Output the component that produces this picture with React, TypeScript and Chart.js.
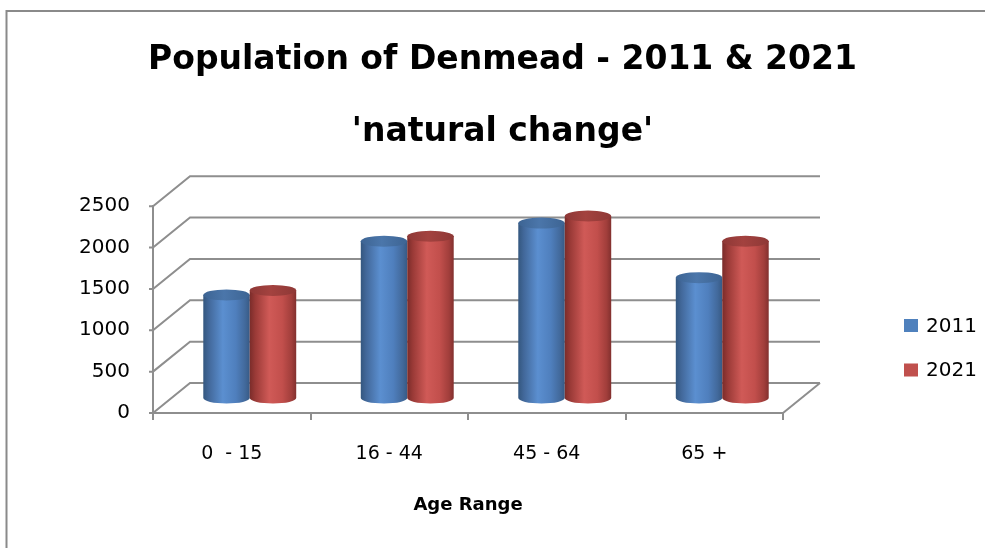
import React, { useEffect, useRef } from 'react';
import { Chart, registerables } from 'chart.js';

Chart.register(...registerables);

// ---- data ----
const categories = ['0  - 15', '16 - 44', '45 - 64', '65 +'];
const seriesLabels = ['2011', '2021'];
const values2011 = [1245, 1895, 2115, 1455];
const values2021 = [1300, 1955, 2200, 1895];
const yMin = 0;
const yMax = 2500;
const yStep = 500;
const titleLines = ['Population of Denmead - 2011 & 2021', "'natural change'"];
const xAxisTitle = 'Age Range';

// ---- style ----
const FONT = "'DejaVu Sans', sans-serif";
const GRID = '#8e8e8e';
const BAR_DX = 18;
const BAR_DY = -15;
const BACK_DX = 37;
const BACK_DY = -30;

type Pal = { base: string; stops: [number, string][]; top: string; topLight: string };
const palettes: Pal[] = [
  {
    base: '#4F81BD',
    stops: [[0, '#34577f'], [0.12, '#42689a'], [0.42, '#5b8fd0'], [0.7, '#4f7fbd'], [0.9, '#42699b'], [1, '#375a85']],
    top: '#3d6493',
    topLight: '#4b76aa',
  },
  {
    base: '#C0504D',
    stops: [[0, '#7a2c2a'], [0.12, '#9a3a37'], [0.42, '#d05a57'], [0.7, '#c24f4c'], [0.9, '#a13e3b'], [1, '#82302e']],
    top: '#8e3836',
    topLight: '#a3423f',
  },
];

function drawCylinder(ctx: CanvasRenderingContext2D, cx: number, top: number, base: number, width: number, pal: Pal) {
  const rx = width / 2;
  const ry = 5.5;
  const left = cx - rx;
  const right = cx + rx;
  const g = ctx.createLinearGradient(left, 0, right, 0);
  pal.stops.forEach(([o, c]) => g.addColorStop(o, c));
  ctx.beginPath();
  ctx.moveTo(left, top);
  ctx.lineTo(left, base);
  ctx.ellipse(cx, base, rx, ry, 0, Math.PI, 0, true);
  ctx.lineTo(right, top);
  ctx.closePath();
  ctx.fillStyle = g;
  ctx.fill();
  const gt = ctx.createLinearGradient(left, 0, right, 0);
  gt.addColorStop(0, pal.top);
  gt.addColorStop(0.45, pal.topLight);
  gt.addColorStop(1, pal.top);
  ctx.beginPath();
  ctx.ellipse(cx, top, rx, ry, 0, 0, Math.PI * 2);
  ctx.fillStyle = gt;
  ctx.fill();
}

const frame3d = {
  id: 'frame3d',
  beforeDraw(chart: any) {
    const ctx = chart.ctx as CanvasRenderingContext2D;
    ctx.save();
    ctx.strokeStyle = '#8a8a8a';
    ctx.lineWidth = 2;
    ctx.beginPath();
    ctx.moveTo(6.5, chart.height + 10);
    ctx.lineTo(6.5, 11);
    ctx.lineTo(chart.width + 10, 11);
    ctx.stroke();
    ctx.restore();
  },
  beforeDatasetsDraw(chart: any) {
    const ctx = chart.ctx as CanvasRenderingContext2D;
    const a = chart.chartArea;
    const ys = chart.scales.y;
    ctx.save();
    ctx.strokeStyle = GRID;
    ctx.lineWidth = 2;
    ys.ticks.forEach((t: any) => {
      const py = ys.getPixelForValue(t.value);
      ctx.beginPath();
      ctx.moveTo(a.left - 4, py);
      ctx.lineTo(a.left, py);
      ctx.lineTo(a.left + BACK_DX, py + BACK_DY);
      ctx.lineTo(a.right + BACK_DX, py + BACK_DY);
      ctx.stroke();
    });
    ctx.beginPath();
    ctx.moveTo(a.right, a.bottom);
    ctx.lineTo(a.right + BACK_DX, a.bottom + BACK_DY);
    ctx.stroke();

    chart.data.datasets.forEach((ds: any, di: number) => {
      const meta = chart.getDatasetMeta(di);
      meta.data.forEach((el: any) => {
        const p = el.getProps(['x', 'y', 'base', 'width'], true);
        drawCylinder(ctx, p.x + BAR_DX, p.y + BAR_DY, p.base + BAR_DY, p.width, palettes[di]);
      });
    });
    ctx.restore();
    return false;
  },
  afterDraw(chart: any) {
    const ctx = chart.ctx as CanvasRenderingContext2D;
    ctx.save();
    ctx.font = `20px ${FONT}`;
    ctx.textBaseline = 'middle';
    ctx.textAlign = 'left';
    chart.data.datasets.forEach((ds: any, i: number) => {
      const cy = 325.5 + i * 44.5;
      ctx.fillStyle = ds.backgroundColor;
      ctx.fillRect(904, cy - 6.5, 14, 13);
      ctx.fillStyle = '#000';
      ctx.fillText(ds.label, 926, cy + 1);
    });
    ctx.restore();
  },
};

export default function App() {
  const ref = useRef<HTMLCanvasElement>(null);
  useEffect(() => {
    if (!ref.current) return;
    const chart = new Chart(ref.current, {
      type: 'bar',
      data: {
        labels: categories,
        datasets: [
          { label: seriesLabels[0], data: values2011, backgroundColor: palettes[0].base, categoryPercentage: 0.59, barPercentage: 1 },
          { label: seriesLabels[1], data: values2021, backgroundColor: palettes[1].base, categoryPercentage: 0.59, barPercentage: 1 },
        ],
      },
      options: {
        responsive: false,
        animation: false,
        devicePixelRatio: 1,
        layout: { padding: { left: 20, right: 0, top: 0, bottom: 0 } },
        plugins: {
          legend: { display: false },
          tooltip: { enabled: false },
          title: {
            display: true,
            text: titleLines,
            color: '#000',
            font: { family: FONT, size: 33, weight: 'bold', lineHeight: 2.2 },
            padding: { top: 24, bottom: 37 },
          },
        },
        scales: {
          x: {
            type: 'category',
            grid: { display: true, offset: true, drawOnChartArea: false, drawTicks: true, tickLength: 7, color: GRID, lineWidth: 2 },
            border: { display: true, color: GRID, width: 2 },
            ticks: { color: '#000', padding: 23, font: { family: FONT, size: 19 }, maxRotation: 0 },
            title: {
              display: true,
              text: xAxisTitle,
              color: '#000',
              font: { family: FONT, size: 18, weight: 'bold' },
              padding: { top: 0, bottom: 32 },
            },
            afterFit: (s: any) => { s.height = 135; },
          },
          y: {
            type: 'linear',
            position: 'left',
            min: yMin,
            max: yMax,
            grid: { display: false, drawTicks: false },
            border: { display: true, color: GRID, width: 2 },
            ticks: {
              stepSize: yStep,
              color: '#000',
              padding: 23,
              font: { family: FONT, size: 20 },
              callback: (v: any) => String(v),
            },
            afterFit: (s: any) => { s.width = 133; },
          },
          yR: {
            type: 'linear',
            position: 'right',
            display: true,
            grid: { display: false, drawTicks: false },
            border: { display: false },
            ticks: { display: false },
            afterFit: (s: any) => { s.width = 202; },
          },
        },
      },
      plugins: [frame3d],
    } as any);
    return () => chart.destroy();
  }, []);
  return (
    <div style={{ position: 'fixed', left: 0, top: 0, width: 985, height: 548, background: '#fff', overflow: 'hidden' }}>
      <canvas ref={ref} width={985} height={548} style={{ display: 'block', width: 985, height: 548 }} />
    </div>
  );
}
